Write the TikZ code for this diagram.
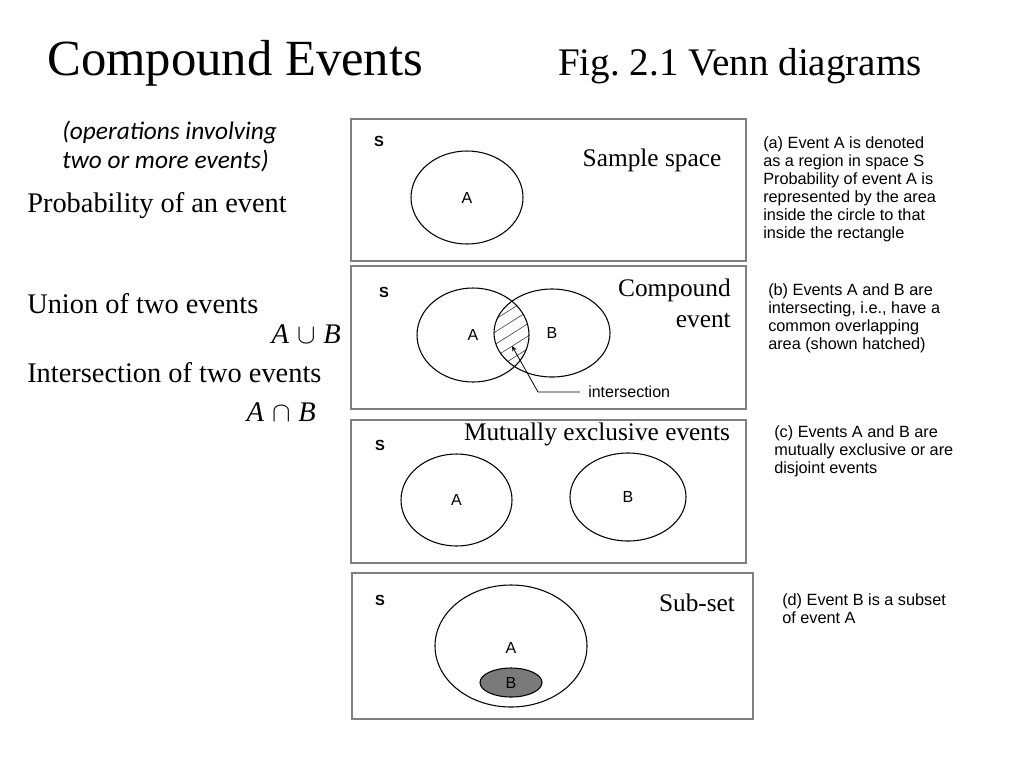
\documentclass[tikz,border=0pt]{standalone}
\usepackage{fontspec}
\setmainfont{Liberation Serif}
\newfontfamily\arialf{Liberation Sans}
\newfontfamily\calibf{Carlito}
\usetikzlibrary{shapes.geometric,arrows.meta}
\begin{document}
\begin{tikzpicture}[x=0.75pt,y=-0.75pt,
  boxframe/.style={draw=black!50, line width=0.9pt},
  setel/.style={ellipse, draw=black, line width=0.8pt, inner sep=0pt, font=\arialf\fontsize{12}{14}\selectfont},
  big/.style={font=\fontsize{21.3}{25}\selectfont, inner sep=0pt, anchor=base west},
  lbl/.style={font=\fontsize{19}{22}\selectfont, inner sep=0pt},
  note/.style={font=\arialf\fontsize{12.2}{13.5}\selectfont, align=left, inner sep=0pt, anchor=north west},
  sl/.style={font=\arialf\bfseries\fontsize{11}{13}\selectfont, inner sep=0pt},
  hatch/.style={draw=black!70, line width=0.5pt}]
\useasboundingbox (0,0) rectangle (1024,768);

% titles
\node[anchor=base west, inner sep=0pt, font=\fontsize{38}{44}\selectfont] (title) at (47,75) {Compound Events};
\node[anchor=base west, inner sep=0pt, font=\fontsize{29.3}{34}\selectfont] (fig) at (558,75) {Fig.\ 2.1 Venn diagrams};
\node[anchor=north west, align=left, inner sep=0pt, font=\calibf\itshape\fontsize{19}{21.75}\selectfont] (ops) at (62,121) {(operations involving\\two or more events)};

% left column
\node[big] (prob) at (27,212) {Probability of an event};
\node[big] (union) at (27,313) {Union of two events};
\node[inner sep=0pt, anchor=base east, font=\fontsize{21.3}{25}\selectfont] (aub) at (341,343) {\textit{A}\;$\cup$\;\textit{B}};
\node[big] (inter) at (27,382) {Intersection of two events};
\node[inner sep=0pt, anchor=base east, font=\fontsize{21.3}{25}\selectfont] (anb) at (316,421) {\textit{A}\;$\cap$\;\textit{B}};

% (a)
\draw[boxframe] (351,119) rectangle (746,261);
\node[sl] (sa) at (379,141) {S};
\node[setel, minimum width=84pt, minimum height=69.75pt] (ea) at (467,197.5) {A};
\node[lbl, anchor=base] (samp) at (652,166) {Sample space};
\node[note] (na) at (763,136) {(a) Event A is denoted\\as a region in space S\\Probability of event A is\\represented by the area\\inside the circle to that\\inside the rectangle};

% (b)
\draw[boxframe] (351,266) rectangle (746,409);
\node[sl] (sb) at (384,292) {S};
\begin{scope}
  \clip (473,335) ellipse [x radius=42pt, y radius=35.25pt];
  \clip (552,333) ellipse [x radius=43.5pt, y radius=33pt];
  \foreach \y in {316.6,329,341.6,354,366.5,379,391.5}
    \draw[hatch] (480,\y) -- (540,\y-38);
\end{scope}
\node[setel, minimum width=84pt, minimum height=70.5pt] (eba) at (473,335) {A};
\node[setel, minimum width=87pt, minimum height=66pt] (ebb) at (552,333) {B};
\node[lbl, anchor=base east, align=right] (comp) at (731,296) {Compound};
\node[lbl, anchor=base east] (compev) at (731,327) {event};
\node[inner sep=0pt, inner xsep=6pt, anchor=west, font=\arialf\fontsize{12}{14}\selectfont] (int) at (580,392) {intersection};
\coordinate (bend) at (538,392);
\coordinate (tip) at (512,346);
\draw[line width=0.6pt, -{Stealth[length=4pt,width=3.5pt]}] (int.west) -- (bend) -- (tip);
\node[note] (nb) at (768,283) {(b) Events A and B are\\intersecting, i.e., have a\\common overlapping\\area (shown hatched)};

% (c)
\draw[boxframe] (351,420) rectangle (746,563);
\node[sl] (sc) at (380,445) {S};
\node[setel, minimum width=83.25pt, minimum height=69pt] (eca) at (456.5,500) {A};
\node[setel, minimum width=87pt, minimum height=66pt] (ecb) at (628,497) {B};
\node[lbl, anchor=base] (mut) at (597,440) {Mutually exclusive events};
\node[note] (nc) at (774,425) {(c) Events A and B are\\mutually exclusive or are\\disjoint events};

% (d)
\draw[boxframe] (352,573) rectangle (753,719);
\node[sl] (sd) at (380,600) {S};
\node[setel, minimum width=114pt, minimum height=91.5pt] (eda) at (511,646) {};
\node[inner sep=0pt, font=\arialf\fontsize{12}{14}\selectfont] (lda) at (511,648) {A};
\node[setel, fill=black!52, minimum width=46.5pt, minimum height=21.75pt] (edb) at (511,682.5) {B};
\node[lbl, anchor=base] (sub) at (697,611) {Sub-set};
\node[note] (nd) at (782,593) {(d) Event B is a subset\\of event A};
\end{tikzpicture}
\end{document}
